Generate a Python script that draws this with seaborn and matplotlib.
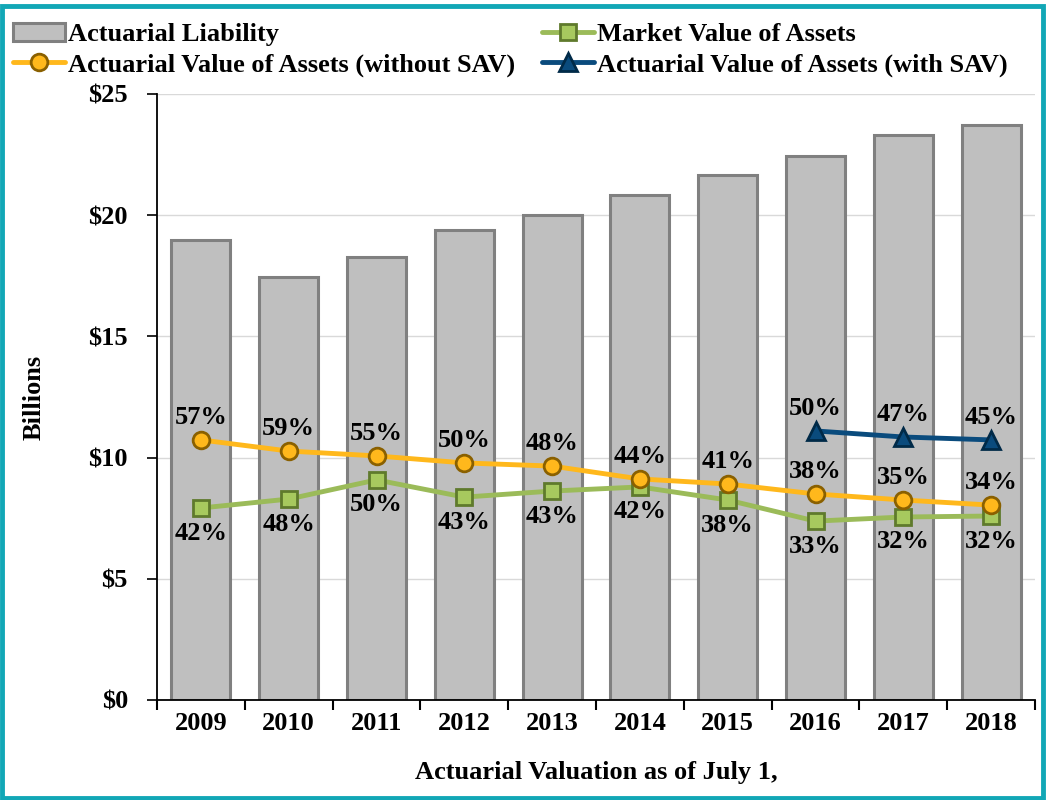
import matplotlib
matplotlib.use("Agg")
import matplotlib.pyplot as plt
import seaborn as sns
import pandas as pd
import numpy as np
from matplotlib.patches import Patch, Rectangle
from matplotlib.lines import Line2D

years = [2009, 2010, 2011, 2012, 2013, 2014, 2015, 2016, 2017, 2018]
liability = [18.98, 17.45, 18.28, 19.39, 20.0, 20.83, 21.66, 22.44, 23.31, 23.72]
ava_without = [10.73, 10.27, 10.07, 9.78, 9.65, 9.12, 8.91, 8.50, 8.25, 8.04]
mva = [7.92, 8.29, 9.08, 8.37, 8.62, 8.79, 8.25, 7.38, 7.55, 7.59]
sav_years = [2016, 2017, 2018]
ava_with = [11.10, 10.85, 10.73]
ava_without_pct = ["57%", "59%", "55%", "50%", "48%", "44%", "41%", "38%", "35%", "34%"]
mva_pct = ["42%", "48%", "50%", "43%", "43%", "42%", "38%", "33%", "32%", "32%"]
ava_with_pct = ["50%", "47%", "45%"]
y_ticks = [0, 5, 10, 15, 20, 25]
y_tick_labels = ["$0", "$5", "$10", "$15", "$20", "$25"]

sns.set_theme(style="white")
plt.rcParams['font.family'] = ['Liberation Serif', 'DejaVu Serif']
plt.rcParams['font.weight'] = 'bold'
plt.rcParams['text.color'] = 'black'
plt.rcParams['axes.labelcolor'] = 'black'
plt.rcParams['xtick.color'] = 'black'
plt.rcParams['ytick.color'] = 'black'

FS = 19
fig = plt.figure(figsize=(10.47, 8), dpi=100)
ax = fig.add_axes([157/1047, 1 - 700/800, (1035-157)/1047, (700-94)/800])

df = pd.DataFrame({"year": years, "liability": liability})
sns.barplot(data=df, x="year", y="liability", native_scale=True, width=0.67,
            color="#BFBFBF", saturation=1, edgecolor="#808080", linewidth=2.2,
            ax=ax, zorder=2)

orange, orange_edge = "#FFB81C", "#8A6000"
green, green_face, green_edge = "#9BBB59", "#A7C95E", "#5F7A2C"
blue, blue_edge = "#0A4B7D", "#002A48"
LW = 3.5

sns.lineplot(x=years, y=ava_without, ax=ax, color=orange, linewidth=LW,
             marker="o", markersize=12, markerfacecolor="#FFB81C",
             markeredgecolor=orange_edge, markeredgewidth=2, zorder=4)
sns.lineplot(x=years, y=mva, ax=ax, color=green, linewidth=LW,
             marker="s", markersize=12, markerfacecolor=green_face,
             markeredgecolor=green_edge, markeredgewidth=2, zorder=3)
sns.lineplot(x=sav_years, y=ava_with, ax=ax, color=blue, linewidth=LW,
             marker="^", markersize=13, markerfacecolor=blue,
             markeredgecolor=blue_edge, markeredgewidth=2, zorder=5)

for x, y, t in zip(years, ava_without, ava_without_pct):
    ax.annotate(t, (x, y), xytext=(0, 16), textcoords="offset points",
                ha="center", va="center", fontsize=FS, fontweight="bold", zorder=6)
for x, y, t in zip(years, mva, mva_pct):
    ax.annotate(t, (x, y), xytext=(0, -18), textcoords="offset points",
                ha="center", va="center", fontsize=FS, fontweight="bold", zorder=6)
for x, y, t in zip(sav_years, ava_with, ava_with_pct):
    ax.annotate(t, (x, y), xytext=(0, 16), textcoords="offset points",
                ha="center", va="center", fontsize=FS, fontweight="bold", zorder=6)

ax.set_xlim(years[0] - 0.5, years[-1] + 0.5)
ax.set_ylim(0, 25)
ax.set_yticks(y_ticks)
ax.set_yticklabels(y_tick_labels, fontsize=FS, fontweight="bold")
ax.set_xticks(years)
ax.set_xticklabels([str(y) for y in years], fontsize=FS, fontweight="bold")
ax.set_xticks([y + 0.5 for y in [years[0] - 1] + years], minor=True)
ax.tick_params(axis="x", which="major", length=0, pad=9)
ax.tick_params(axis="x", which="minor", length=7, width=1.5, direction="out", color="black", bottom=True)
ax.tick_params(axis="y", which="major", length=7, width=1.2, direction="out", color="black", left=True, pad=14)
ax.grid(axis="y", color="#D9D9D9", linewidth=1)
ax.set_axisbelow(True)
for s in ["top", "right"]:
    ax.spines[s].set_visible(False)
for s in ["left", "bottom"]:
    ax.spines[s].set_color("black")
    ax.spines[s].set_linewidth(1.3)

ax.set_ylabel("Billions", fontsize=FS, fontweight="bold", labelpad=31)
ax.set_xlabel("Actuarial Valuation as of July 1,", fontsize=FS, fontweight="bold", labelpad=18)

handles = [
    Patch(facecolor="#BFBFBF", edgecolor="#808080", linewidth=2.2, label="Actuarial Liability"),
    Line2D([], [], color=orange, linewidth=LW, marker="o", markersize=12,
           markerfacecolor="#FFB81C", markeredgecolor=orange_edge, markeredgewidth=2,
           label="Actuarial Value of Assets (without SAV)"),
    Line2D([], [], color=green, linewidth=LW, marker="s", markersize=12,
           markerfacecolor=green_face, markeredgecolor=green_edge, markeredgewidth=2,
           label="Market Value of Assets"),
    Line2D([], [], color=blue, linewidth=LW, marker="^", markersize=13,
           markerfacecolor=blue, markeredgecolor=blue_edge, markeredgewidth=2,
           label="Actuarial Value of Assets (with SAV)"),
]
leg = fig.legend(handles=handles, ncol=2, loc="upper left", bbox_to_anchor=(10/1047, 1 - 20/800),
                 frameon=False, prop={"size": FS, "weight": "bold"},
                 handlelength=2.0, handletextpad=0.1, columnspacing=1.0,
                 labelspacing=0.25, borderaxespad=0, borderpad=0.1)

fig.patches.append(Rectangle((0.002, 0.003), 0.994, 0.99, transform=fig.transFigure,
                             fill=False, edgecolor="#12A7B6", linewidth=3.5, zorder=10))

fig.savefig("out.png", dpi=100)
